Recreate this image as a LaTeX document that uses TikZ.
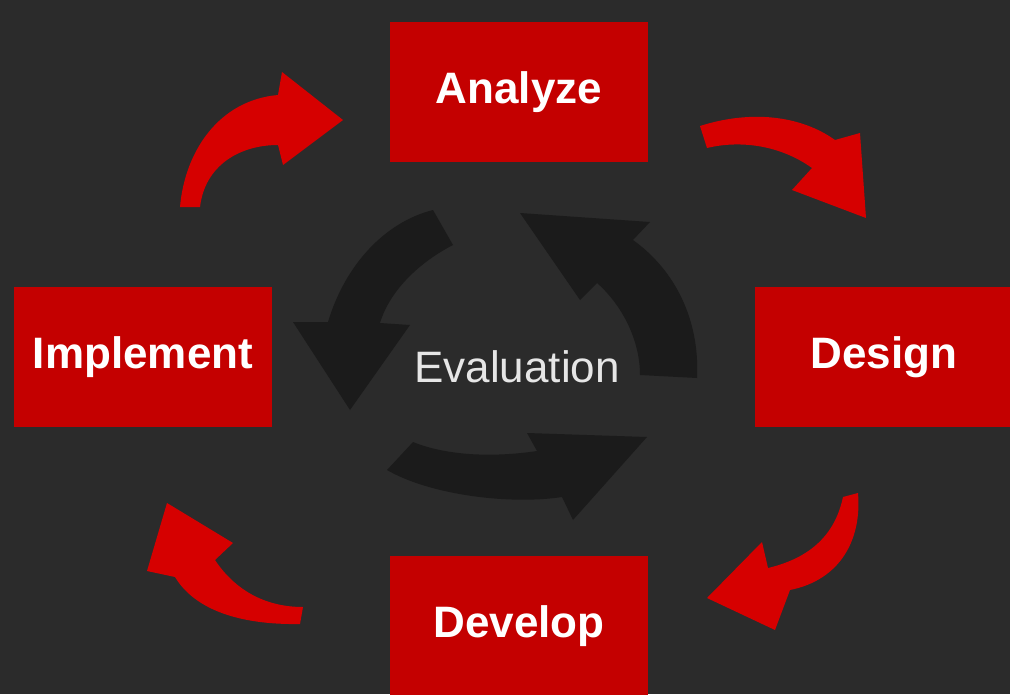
\documentclass[tikz,border=0pt]{standalone}
\usepackage{fontspec}
\setmainfont{Liberation Sans}
\usepackage{tikz}

\definecolor{bgdark}{HTML}{2B2B2B}
\definecolor{boxred}{HTML}{C40000}
\definecolor{arrowred}{HTML}{D60000}
\definecolor{cycledark}{HTML}{1B1B1B}
\definecolor{evaltext}{HTML}{E6E6E6}

\begin{document}
\begin{tikzpicture}[x=1pt, y=-1pt,
    phase/.style={fill=boxred, text=white, minimum width=258pt, minimum height=140pt,
      inner sep=0pt, font=\fontsize{44}{50}\selectfont\bfseries},
    redarrow/.style={fill=arrowred},
    darkarrow/.style={fill=cycledark}]
    % Background
    \useasboundingbox (0,0) rectangle (1010,694);
    \clip (0,0) rectangle (1010,694);
    \fill[bgdark] (0,0) rectangle (1010,694);
    % Draw the inner cycle arrows
    \fill[darkarrow] (433,210) .. controls (385,222) and (345,265) .. (328,322) -- (293,322)
      -- (350,410) -- (410,325) -- (380,323) .. controls (390,290) and (420,262) .. (453,245) -- cycle;
    \fill[darkarrow] (697,378) .. controls (700,320) and (675,270) .. (633,240) -- (650,222)
      -- (520,213) -- (580,300) -- (597,283) .. controls (622,305) and (640,340) .. (640,375) -- cycle;
    \fill[darkarrow] (387,470) .. controls (430,495) and (510,505) .. (562,497) -- (573,520)
      -- (647,437) -- (527,433) -- (537,451) .. controls (490,458) and (445,455) .. (413,442) -- cycle;
    \node[text=evaltext] (eval) at (517,367) {\fontsize{44}{50}\selectfont Evaluation};
    % Draw the phases
    \node[phase] (analyze) at (519,92) {Analyze};
    \node[phase] (design) at (884,357) {Design};
    \node[phase] (develop) at (519,626) {Develop};
    \node[phase] (implement) at (143,357) {Implement};
    % Draw the outer arrows
    \fill[redarrow] (180,207) .. controls (185,150) and (220,100) .. (278,95) -- (282,72)
      -- (343,120) -- (283,165) -- (278,145) .. controls (240,145) and (205,165) .. (200,207) -- cycle;
    \fill[redarrow] (700,126) .. controls (750,110) and (800,115) .. (835,140) -- (860,133)
      -- (866,218) -- (792,190) -- (812,168) .. controls (780,145) and (740,140) .. (707,148) -- cycle;
    \fill[redarrow] (858,493) .. controls (862,540) and (840,580) .. (790,590) -- (775,630)
      -- (707,598) -- (762,542) -- (768,568) .. controls (810,558) and (835,535) .. (843,497) -- cycle;
    \fill[redarrow] (303,607) .. controls (265,607) and (235,590) .. (215,560) -- (233,543)
      -- (167,503) -- (147,571) -- (175,577) .. controls (195,610) and (240,625) .. (300,624) -- cycle;
\end{tikzpicture}
\end{document}
